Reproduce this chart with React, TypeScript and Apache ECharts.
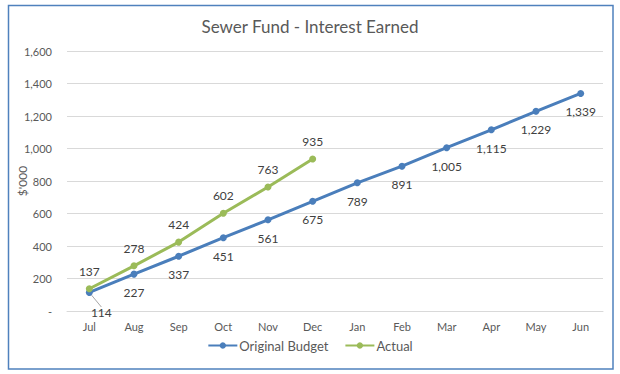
import React, { useEffect, useRef } from "react";
import * as echarts from "echarts";

const categories = ["Jul", "Aug", "Sep", "Oct", "Nov", "Dec", "Jan", "Feb", "Mar", "Apr", "May", "Jun"];
const originalBudget = [114, 227, 337, 451, 561, 675, 789, 891, 1005, 1115, 1229, 1339];
const actual = [137, 278, 424, 602, 763, 935];

const BLUE = "#4a7ebb";
const GREEN = "#9bbb59";
const TXT = "#595959";
const FONT = "Lato, 'Open Sans', sans-serif";

export default function App() {
  const ref = useRef<HTMLDivElement>(null);
  useEffect(() => {
    document.body.style.margin = "0";
    const chart = echarts.init(ref.current!, undefined, { renderer: "svg" });
    const fmt = (v: number) => (v === 0 ? "-" : v.toLocaleString("en-US"));
    const budgetData = originalBudget.map((v, i) =>
      i === 0
        ? { value: v, labelLine: { show: true, lineStyle: { color: "#a6a6a6", width: 1 } } }
        : { value: v, labelLine: { show: false } }
    );
    chart.setOption({
      animation: false,
      textStyle: { fontFamily: FONT },
      graphic: [
        {
          type: "rect",
          shape: { x: 8.5, y: 5.5, width: 604.5, height: 363.5 },
          style: { fill: "none", stroke: "#4f81bd", lineWidth: 1.5 },
          silent: true,
        },
      ],
      title: {
        text: "Sewer Fund - Interest Earned",
        left: "center",
        top: 13,
        textStyle: { fontFamily: FONT, fontSize: 17, fontWeight: "normal", color: TXT },
      },
      legend: {
        bottom: 17,
        left: "center",
        itemWidth: 29,
        itemHeight: 8,
        itemGap: 16,
        textStyle: { fontFamily: FONT, fontSize: 13, color: TXT, padding: [0, 0, 0, -3] },
        data: ["Original Budget", "Actual"],
      },
      grid: { left: 67, right: 17, top: 51, bottom: 63, containLabel: false, outerBoundsMode: "none" },
      xAxis: {
        type: "category",
        data: categories,
        boundaryGap: true,
        axisTick: { show: false },
        axisLine: { lineStyle: { color: "#d9d9d9" } },
        axisLabel: { color: TXT, fontSize: 11, fontFamily: FONT, margin: 10 },
      },
      yAxis: {
        type: "value",
        min: 0,
        max: 1600,
        interval: 200,
        name: "$'000",
        nameLocation: "middle",
        nameRotate: 90,
        nameGap: 39,
        nameMoveOverlap: false,
        nameTextStyle: { color: TXT, fontSize: 12, fontFamily: FONT },
        axisLine: { show: false },
        axisTick: { show: false },
        splitLine: { lineStyle: { color: "#d9d9d9" } },
        axisLabel: { color: TXT, fontSize: 11, fontFamily: FONT, margin: 15, formatter: fmt },
      },
      series: [
        {
          name: "Original Budget",
          type: "line",
          data: budgetData,
          symbol: "circle",
          symbolSize: 7,
          lineStyle: { color: BLUE, width: 3 },
          itemStyle: { color: BLUE },
          label: {
            show: true,
            position: "bottom",
            distance: 9,
            color: "#404040",
            fontSize: 12,
            fontFamily: FONT,
            formatter: (p: any) => fmt(p.value),
          },
          labelLayout: (p: any) => (p.dataIndex === 0 ? { dx: 12, dy: 2 } : {}),
          z: 2,
        },
        {
          name: "Actual",
          type: "line",
          data: actual,
          symbol: "circle",
          symbolSize: 7,
          lineStyle: { color: GREEN, width: 3 },
          itemStyle: { color: GREEN },
          label: {
            show: true,
            position: "top",
            distance: 8,
            color: "#404040",
            fontSize: 12,
            fontFamily: FONT,
            formatter: (p: any) => fmt(p.value),
          },
          z: 3,
        },
      ],
    });
    return () => chart.dispose();
  }, []);
  return <div ref={ref} style={{ width: 620, height: 374 }} />;
}
